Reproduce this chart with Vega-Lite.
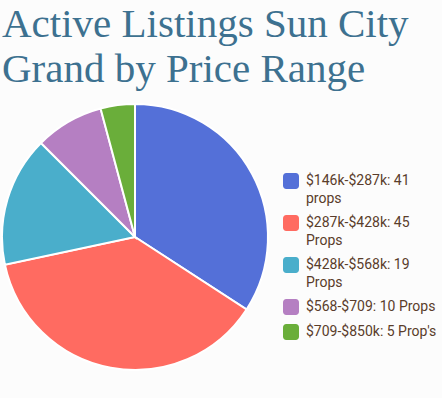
{
  "$schema": "https://vega.github.io/schema/vega-lite/v6.json",
  "autosize": {"type": "none"},
  "width": 266,
  "height": 266,
  "padding": {"left": 2, "top": 104, "right": 174, "bottom": 28},
  "background": "#fcfcfc",
  "title": {
    "text": ["Active Listings Sun City", "Grand by Price Range"],
    "anchor": "start",
    "frame": "group",
    "font": "Liberation Serif",
    "fontSize": 41,
    "fontWeight": "normal",
    "lineHeight": 45,
    "color": "#3d7190",
    "offset": 9
  },
  "data": {
    "values": [
      {"label": "$146k-$287k: 41 props", "count": 41, "idx": 1},
      {"label": "$287k-$428k: 45 Props", "count": 45, "idx": 2},
      {"label": "$428k-$568k: 19 Props", "count": 19, "idx": 3},
      {"label": "$568-$709: 10 Props", "count": 10, "idx": 4},
      {"label": "$709-$850k: 5 Prop's", "count": 5, "idx": 5}
    ]
  },
  "mark": {"type": "arc", "stroke": "#ffffff", "strokeWidth": 2},
  "encoding": {
    "theta": {"field": "count", "type": "quantitative", "stack": true},
    "order": {"field": "idx", "type": "quantitative"},
    "color": {
      "field": "label",
      "type": "nominal",
      "sort": {"field": "idx"},
      "scale": {
        "domain": ["$146k-$287k: 41 props", "$287k-$428k: 45 Props", "$428k-$568k: 19 Props", "$568-$709: 10 Props", "$709-$850k: 5 Prop's"],
        "range": ["#5470d8", "#ff6b61", "#4aaecb", "#b57fc2", "#6aae3a"]
      },
      "legend": {
        "title": null,
        "orient": "none",
        "legendX": 281,
        "legendY": 69,
        "symbolType": "M -0.6,-1 H 0.6 A 0.4 0.4 0 0 1 1 -0.6 V 0.6 A 0.4 0.4 0 0 1 0.6 1 H -0.6 A 0.4 0.4 0 0 1 -1 0.6 V -0.6 A 0.4 0.4 0 0 1 -0.6 -1 Z",
        "symbolSize": 256,
        "symbolStrokeWidth": 0,
        "symbolOpacity": 1,
        "labelFont": "Roboto",
        "labelFontSize": 14,
        "labelColor": "#5a3d2b",
        "labelOffset": 7,
        "labelLimit": 200,
        "rowPadding": 9,
        "labelExpr": "length(datum.label) > 20 ? [slice(datum.label, 0, 15), slice(datum.label, 16)] : datum.label"
      }
    }
  },
  "config": {"view": {"stroke": null}, "style": {"guide-label": {"lineHeight": 18}}}
}
